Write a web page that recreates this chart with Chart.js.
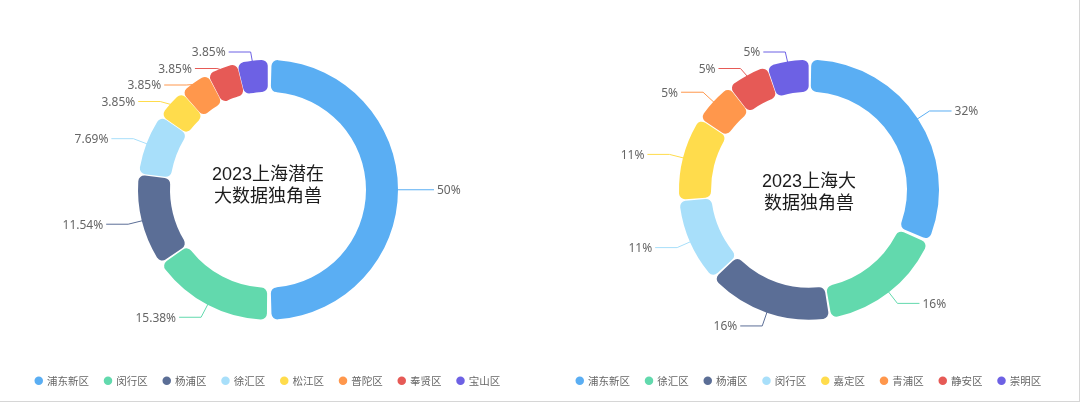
<!DOCTYPE html>
<html>
<head>
<meta charset="utf-8">
<title>2023上海大数据独角兽</title>
<script src="https://cdn.jsdelivr.net/npm/chart.js@4.4.0/dist/chart.umd.min.js"></script>
<style>
  html, body { margin: 0; padding: 0; background: #fff; }
  #wrap {
    position: relative; width: 1080px; height: 402px; box-sizing: border-box;
    border-right: 1px solid #d6d6d6; border-bottom: 1px solid #d6d6d6; overflow: hidden;
  }
  .cell { position: absolute; top: 0; width: 540px; height: 401px; }
</style>
</head>
<body>
<div id="wrap">
  <div class="cell" style="left:0"><canvas id="potentialChart"></canvas></div>
  <div class="cell" style="left:540px"><canvas id="unicornChart"></canvas></div>
</div>

<script>
// ── Data ──────────────────────────────────────────────
const potentialDistricts = ['浦东新区', '闵行区', '杨浦区', '徐汇区', '松江区', '普陀区', '奉贤区', '宝山区'];
const potentialCounts    = [13, 4, 3, 2, 1, 1, 1, 1];
const potentialTitle     = ['2023上海潜在', '大数据独角兽'];

const unicornDistricts = ['浦东新区', '徐汇区', '杨浦区', '闵行区', '嘉定区', '青浦区', '静安区', '崇明区'];
const unicornCounts    = [6, 3, 3, 2, 2, 1, 1, 1];
const unicornTitle     = ['2023上海大', '数据独角兽'];

const palette = ['#5AAEF3', '#62D9AD', '#5B6E96', '#A8DFFA', '#FFDC4C', '#FF974C', '#E65A56', '#6D61E4'];

/* ── Center title plugin ─────────────────────────────── */
const centerTitle = {
  id: 'centerTitle',
  afterDraw(chart, args, opts) {
    const arc = chart.getDatasetMeta(0).data[0];
    if (!arc) return;
    const { ctx } = chart;
    const lines = opts.lines || [];
    const lh = 22;
    const y0 = arc.y + (opts.offsetY || 0) - (lines.length - 1) * lh / 2;
    ctx.save();
    ctx.font = '18px "Liberation Sans", "Noto Sans CJK SC", sans-serif';
    ctx.fillStyle = '#1c1c1c';
    ctx.textAlign = 'center';
    ctx.textBaseline = 'middle';
    lines.forEach((t, i) => ctx.fillText(t, arc.x, y0 + i * lh));
    ctx.restore();
  }
};

/* ── Outside labels with leader lines ────────────────── */
const outerLabels = {
  id: 'outerLabels',
  afterDatasetsDraw(chart, args, opts) {
    const { ctx } = chart;
    const meta = chart.getDatasetMeta(0);
    const data = chart.data.datasets[0].data;
    const total = data.reduce((a, b) => a + b, 0);
    const len1 = 16, len2 = 22, gap = 16.5;

    const items = meta.data.map((arc, i) => {
      const p = arc.getProps(['x', 'y', 'startAngle', 'endAngle', 'outerRadius'], true);
      const mid = (p.startAngle + p.endAngle) / 2;
      const cos = Math.cos(mid), sin = Math.sin(mid);
      const r2 = p.outerRadius + len1;
      return {
        i, right: cos >= 0,
        x1: p.x + cos * p.outerRadius, y1: p.y + sin * p.outerRadius,
        x2: p.x + cos * r2, ty: p.y + sin * r2,
        text: +(data[i] / total * 100).toFixed(opts.decimals) + '%'
      };
    });

    // keep labels on each side from overlapping
    [true, false].forEach(side => {
      const group = items.filter(it => it.right === side).sort((a, b) => a.ty - b.ty);
      let prev = opts.minY - gap;
      group.forEach(it => { it.ty = Math.max(it.ty, prev + gap); prev = it.ty; });
      let next = opts.maxY + gap;
      for (let k = group.length - 1; k >= 0; k--) {
        group[k].ty = Math.min(group[k].ty, next - gap);
        next = group[k].ty;
      }
    });

    ctx.save();
    ctx.font = '12px "Noto Sans", "Liberation Sans", sans-serif';
    ctx.textBaseline = 'middle';
    items.forEach(it => {
      const dir = it.right ? 1 : -1;
      const color = palette[it.i % palette.length];
      ctx.strokeStyle = color;
      ctx.lineWidth = 1;
      ctx.beginPath();
      ctx.moveTo(it.x1, it.y1);
      ctx.lineTo(it.x2, it.ty);
      ctx.lineTo(it.x2 + dir * len2, it.ty);
      ctx.stroke();
      ctx.fillStyle = '#666';
      ctx.textAlign = it.right ? 'left' : 'right';
      ctx.fillText(it.text, it.x2 + dir * (len2 + 3), it.ty + 1);
    });
    ctx.restore();
  }
};

function buildDonut(id, labels, counts, title, decimals, textOffsetY, padRight) {
  return new Chart(document.getElementById(id), {
    type: 'doughnut',
    data: {
      labels,
      datasets: [{
        data: counts,
        backgroundColor: palette,
        borderWidth: 0,
        borderRadius: 6,
        spacing: 4
      }]
    },
    options: {
      responsive: true,
      maintainAspectRatio: false,
      animation: false,
      events: [],
      radius: 128,
      cutout: '75%',
      layout: { padding: { top: 20, bottom: 5, left: 0, right: padRight } },
      plugins: {
        legend: {
          position: 'bottom',
          labels: {
            usePointStyle: true,
            pointStyle: 'circle',
            boxWidth: 6,
            boxHeight: 6,
            padding: 16,
            color: '#666',
            font: { family: '"Noto Sans CJK SC", sans-serif', size: 10.5 }
          }
        },
        tooltip: { enabled: false },
        centerTitle: { lines: title, offsetY: textOffsetY },
        outerLabels: { decimals, minY: 52, maxY: 345 }
      }
    },
    plugins: [centerTitle, outerLabels]
  });
}

buildDonut('potentialChart', potentialDistricts, potentialCounts, potentialTitle, 2, -4, 4);
buildDonut('unicornChart', unicornDistricts, unicornCounts, unicornTitle, 0, 3, 2);
</script>
</body>
</html>
